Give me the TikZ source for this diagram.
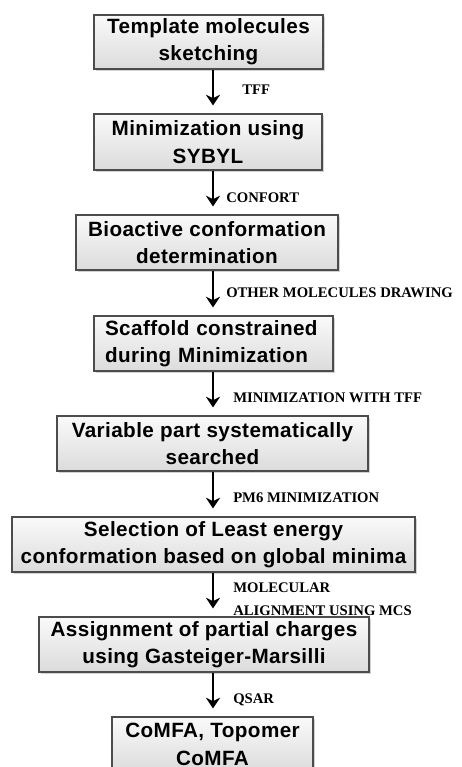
\documentclass[tikz,border=0pt]{standalone}
\usepackage{fontspec}
\newfontfamily\boxfont[LetterSpace=2]{Liberation Sans}
\newfontfamily\labfont{Liberation Serif}
\usetikzlibrary{arrows.meta,shadows,calc}
\tikzset{
  stepbox/.style={draw=black!70, line width=0.8pt, top color=gray!4, bottom color=gray!28,
    drop shadow={shadow xshift=1.2pt, shadow yshift=-1.2pt, opacity=0.35},
    font=\boxfont\bfseries\fontsize{15.5}{20.5}\selectfont, align=center,
    inner sep=0pt, text=black},
  lab/.style={anchor=west, inner sep=0pt, font=\labfont\bfseries\fontsize{11}{18}\selectfont, text=black},
  arr/.style={line width=1.7pt, -{Stealth[length=8pt,width=10.5pt,inset=2.5pt]}, shorten >=6pt}
}
\begin{document}
\begin{tikzpicture}[x=0.75pt,y=-0.75pt]
\useasboundingbox (0,0) rectangle (461,767);
\clip (0,0) rectangle (461,767);
\fill[white] (0,0) rectangle (461,767);
\coordinate (ax) at (213,0);
\node[stepbox, minimum width=229*0.75pt, minimum height=54*0.75pt] (b1) at (208.5,42) {Template molecules\\sketching};
\node[stepbox, minimum width=228*0.75pt, minimum height=56*0.75pt] (b2) at (208,142) {Minimization using\\SYBYL};
\node[stepbox, minimum width=262*0.75pt, minimum height=55*0.75pt] (b3) at (207,242.5) {Bioactive conformation\\determination};
\node[stepbox, minimum width=239*0.75pt, minimum height=55*0.75pt, align=left, text width=217*0.75pt] (b4) at (213.5,343.5) {Scaffold constrained\\during Minimization};
\node[stepbox, minimum width=311*0.75pt, minimum height=55*0.75pt] (b5) at (212.5,443.5) {Variable part systematically\\searched};
\node[stepbox, minimum width=403*0.75pt, minimum height=55*0.75pt] (b6) at (213.5,544.5) {Selection of Least energy\\conformation based on global minima};
\node[stepbox, minimum width=330*0.75pt, minimum height=55*0.75pt] (b7) at (204,644.5) {Assignment of partial charges\\using Gasteiger-Marsilli};
\node[stepbox, minimum width=201*0.75pt, minimum height=55*0.75pt] (b8) at (212.5,744.5) {CoMFA, Topomer\\CoMFA};
\draw[arr] (b1.south -| ax) -- (b2.north -| ax);
\draw[arr] (b2.south -| ax) -- (b3.north -| ax);
\draw[arr] (b3.south -| ax) -- (b4.north -| ax);
\draw[arr] (b4.south -| ax) -- (b5.north -| ax);
\draw[arr] (b5.south -| ax) -- (b6.north -| ax);
\draw[arr] (b6.south -| ax) -- (b7.north -| ax);
\draw[arr] (b7.south -| ax) -- (b8.north -| ax);
\node[lab] (l1) at (242,90) {TFF};
\node[lab] (l2) at (226,198) {CONFORT};
\node[lab] (l3) at (226,293) {OTHER MOLECULES DRAWING};
\node[lab] (l4) at (233,398) {MINIMIZATION WITH TFF};
\node[lab] (l5) at (233,498) {PM6 MINIMIZATION};
\node[lab] (l6) at (233,588) {MOLECULAR};
\node[lab] (l6b) at (233,611) {ALIGNMENT USING MCS};
\node[lab] (l7) at (233,700) {QSAR};
\end{tikzpicture}
\end{document}
